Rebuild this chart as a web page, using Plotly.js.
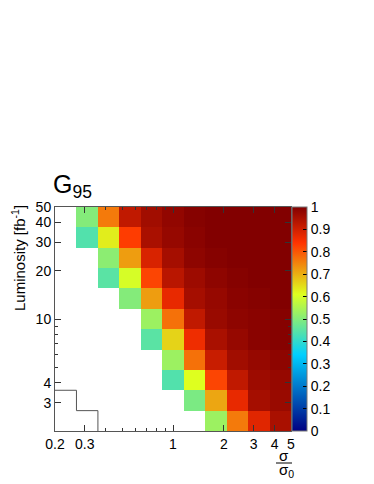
<!DOCTYPE html>
<html>
<head>
<meta charset="utf-8">
<script src="https://cdn.plot.ly/plotly-3.0.1.min.js"></script>
<style>html,body{margin:0;padding:0;background:#fff}</style>
</head>
<body>
<div id="plot" style="width:374px;height:484px"></div>
<script>
// bin edges (log-uniform, 11 bins each)
const sigmaEdges = [0.2, 0.268, 0.3591, 0.4812, 0.6447, 0.8639, 1.1576, 1.5511, 2.0784, 2.785, 3.7318, 5];
const lumiEdges = [2, 2.68, 3.591, 4.812, 6.447, 8.639, 11.576, 15.511, 20.784, 27.85, 37.318, 50];

// G95 per cell, rows from lowest luminosity bin up
const g95 = [
  [null, null, null, null, null, null, null, 0.53, 0.76, 0.88, 0.95],
  [null, null, null, null, null, null, 0.49, 0.71, 0.87, 0.955, 0.97],
  [null, null, null, null, null, 0.44, 0.61, 0.82, 0.92, 0.965, 0.975],
  [null, null, null, null, null, 0.53, 0.77, 0.91, 0.96, 0.975, 0.985],
  [null, null, null, null, 0.45, 0.66, 0.86, 0.95, 0.975, 0.99, 0.995],
  [null, null, null, null, 0.53, 0.77, 0.92, 0.97, 0.985, 0.99, 0.995],
  [null, null, null, 0.50, 0.72, 0.87, 0.955, 0.975, 0.99, 0.995, 1],
  [null, null, 0.45, 0.60, 0.82, 0.93, 0.965, 0.985, 0.995, 1, 1],
  [null, null, 0.51, 0.72, 0.89, 0.955, 0.985, 0.995, 1, 1, 1],
  [null, 0.44, 0.63, 0.83, 0.95, 0.975, 0.99, 1, 1, 1, 1],
  [null, 0.50, 0.76, 0.92, 0.96, 0.98, 0.995, 1, 1, 1, 1]
];

// staircase outline in the lower-left corner
const boundSigma = [0.2, 0.268, 0.3591];
const boundLumi = [3.591, 2.68, 2];

const xTicks = [0.2, 0.3, 1, 2, 3, 4, 5];
const xMinor = [0.4, 0.5, 0.6, 0.7, 0.8, 0.9];
const yTicks = [3, 4, 10, 20, 30, 40, 50];
const yMinor = [5, 6, 7, 8, 9];
const zTicks = [0, 0.1, 0.2, 0.3, 0.4, 0.5, 0.6, 0.7, 0.8, 0.9, 1];

// ROOT "pretty" palette
const palette = [
  [0, "rgb(0,0,130)"],
  [0.34, "rgb(0,207,255)"],
  [0.61, "rgb(222,255,31)"],
  [0.84, "rgb(255,51,0)"],
  [1, "rgb(130,0,0)"]
];

const font = "Liberation Sans, Arial, Helvetica, sans-serif";

const data = [
  {
    type: "heatmap",
    x: sigmaEdges,
    y: lumiEdges,
    z: g95,
    zmin: 0,
    zmax: 1,
    colorscale: palette,
    hoverinfo: "skip",
    colorbar: {
      x: 1.004, xanchor: "left", xpad: 0,
      y: 0.5, yanchor: "middle", len: 1, ypad: 0,
      thickness: 15,
      outlinecolor: "#777", outlinewidth: 1,
      tickmode: "array", tickvals: zTicks, ticktext: zTicks.map(String),
      ticks: "inside", ticklen: 4, tickcolor: "#000",
      tickfont: { family: font, size: 14, color: "#000" }
    }
  },
  {
    type: "scatter",
    mode: "lines",
    x: boundSigma,
    y: boundLumi,
    line: { shape: "hv", color: "#555", width: 1 },
    hoverinfo: "skip",
    showlegend: false
  }
];

const layout = {
  width: 374,
  height: 484,
  margin: { l: 55, r: 83, t: 207, b: 53 },
  paper_bgcolor: "#fff",
  plot_bgcolor: "#fff",
  font: { family: font, size: 14, color: "#000" },
  showlegend: false,
  title: {
    text: "G<sub>95</sub>",
    font: { family: font, size: 25, color: "#000" },
    x: 53 / 374, xanchor: "left",
    y: 1 - 184 / 484, yanchor: "middle"
  },
  xaxis: {
    type: "log",
    range: [Math.log10(0.2), Math.log10(5)],
    tickmode: "array", tickvals: xTicks, ticktext: xTicks.map(String),
    ticks: "inside", ticklen: 6, tickcolor: "#333",
    minor: { tickvals: xMinor, ticks: "inside", ticklen: 3, tickcolor: "#333" },
    showgrid: false, zeroline: false,
    showline: true, linecolor: "#555", linewidth: 1, mirror: "ticks",
    tickfont: { family: font, size: 14 }
  },
  yaxis: {
    type: "log",
    range: [Math.log10(2), Math.log10(50)],
    tickmode: "array", tickvals: yTicks, ticktext: yTicks.map(String),
    ticks: "inside", ticklen: 6, tickcolor: "#333",
    minor: { tickvals: yMinor, ticks: "inside", ticklen: 3, tickcolor: "#333" },
    showgrid: false, zeroline: false,
    showline: true, linecolor: "#555", linewidth: 1, mirror: "ticks",
    tickfont: { family: font, size: 14 }
  },
  annotations: [
    {
      text: "Luminosity [fb<sup>-1</sup>]",
      textangle: -90,
      xref: "paper", yref: "paper",
      x: (18 - 55) / 236, xanchor: "center",
      y: (431 - 203) / 224, yanchor: "top",
      showarrow: false,
      font: { family: font, size: 15 }
    },
    {
      text: "σ",
      xref: "paper", yref: "paper",
      x: (284 - 55) / 236, xanchor: "center",
      y: (431 - 455) / 224, yanchor: "middle",
      showarrow: false,
      font: { family: font, size: 15 }
    },
    {
      text: "σ<sub>0</sub>",
      xref: "paper", yref: "paper",
      x: (286 - 55) / 236, xanchor: "center",
      y: (431 - 470) / 224, yanchor: "middle",
      showarrow: false,
      font: { family: font, size: 15 }
    }
  ],
  shapes: [
    {
      type: "line", xref: "paper", yref: "paper",
      x0: (276 - 55) / 236, x1: (292 - 55) / 236,
      y0: (431 - 463) / 224, y1: (431 - 463) / 224,
      line: { color: "#000", width: 1 }
    }
  ]
};

Plotly.newPlot("plot", data, layout, { staticPlot: true, displayModeBar: false });
</script>
</body>
</html>
